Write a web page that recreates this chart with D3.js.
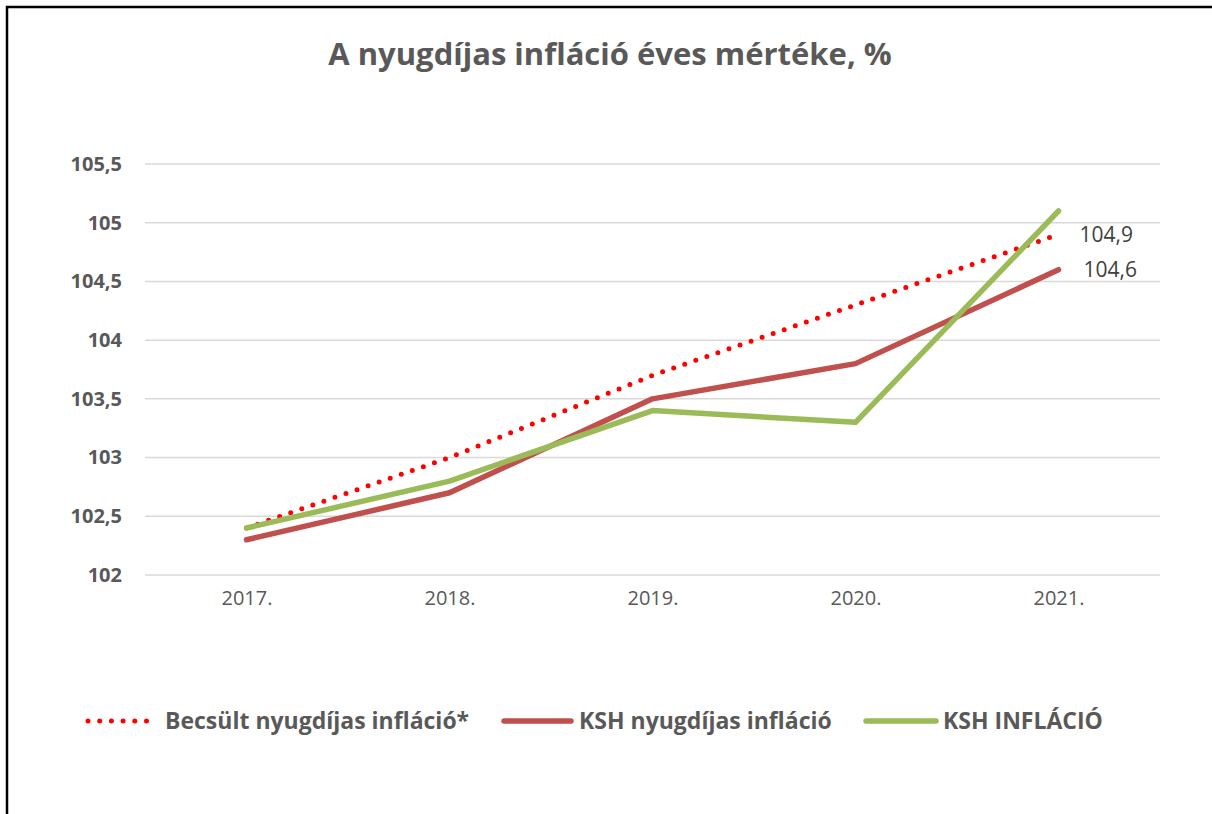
<!DOCTYPE html>
<html>
<head>
<meta charset="utf-8">
<script src="https://cdn.jsdelivr.net/npm/d3@7"></script>
<style>
  html, body { margin: 0; padding: 0; background: #fff; }
  svg { display: block; font-family: "Open Sans", "Noto Sans", sans-serif; }
</style>
</head>
<body>
<svg id="chart" width="1212" height="814"></svg>
<script>
// Évek és sorozatok
const years = ["2017.", "2018.", "2019.", "2020.", "2021."];
const becsultNyugdijas = [102.4, 103.0, 103.7, 104.3, 104.9];
const kshNyugdijas = [102.3, 102.7, 103.5, 103.8, 104.6];
const kshInflacio = [102.4, 102.8, 103.4, 103.3, 105.1];
const yTicks = [102, 102.5, 103, 103.5, 104, 104.5, 105, 105.5];
const seriesNames = ["Becsült nyugdíjas infláció*", "KSH nyugdíjas infláció", "KSH INFLÁCIÓ"];

const fmt = v => String(v).replace(".", ",");

const svg = d3.select("#chart");

// Külső keret
svg.append("rect")
  .attr("x", 7).attr("y", 7)
  .attr("width", 1240).attr("height", 900)
  .attr("fill", "none").attr("stroke", "#000").attr("stroke-width", 2.5);

// Cím
svg.append("text")
  .attr("x", 610).attr("y", 65)
  .attr("text-anchor", "middle")
  .attr("font-size", 31).attr("font-weight", 700)
  .attr("fill", "#595959")
  .text("A nyugdíjas infláció éves mértéke, %");

const x = d3.scalePoint().domain(years).range([145, 1160]).padding(0.5);
const y = d3.scaleLinear().domain([102, 105.5]).range([575, 164]);

// Rácsvonalak
svg.append("g").selectAll("line").data(yTicks).join("line")
  .attr("x1", 145).attr("x2", 1160)
  .attr("y1", d => y(d)).attr("y2", d => y(d))
  .attr("stroke", "#d9d9d9").attr("stroke-width", 1.5);

// Y tengely feliratai
const yAxis = d3.axisLeft(y).tickValues(yTicks).tickFormat(fmt).tickSize(0).tickPadding(0);
const gy = svg.append("g").attr("transform", "translate(122,0)").call(yAxis);
gy.select(".domain").remove();
gy.selectAll("text")
  .attr("font-family", "'Open Sans', sans-serif")
  .attr("font-size", 20).attr("font-weight", 700)
  .attr("fill", "#595959");

// X tengely feliratai
const xAxis = d3.axisBottom(x).tickSize(0).tickPadding(0);
const gx = svg.append("g").attr("transform", "translate(0,591)").call(xAxis);
gx.select(".domain").remove();
gx.selectAll("text")
  .attr("font-family", "'Open Sans', sans-serif")
  .attr("font-size", 20)
  .attr("fill", "#595959");

const line = d3.line().x((d, i) => x(years[i])).y(d => y(d));

const styles = [
  { data: becsultNyugdijas, color: "#ff0000", width: 5, dash: "0 11.7" },
  { data: kshNyugdijas, color: "#c0504d", width: 5.5, dash: null },
  { data: kshInflacio, color: "#9bbb59", width: 5.5, dash: null }
];

// Vonalak (a zöldet rajzoljuk legfelülre)
[1, 0, 2].forEach(k => {
  const s = styles[k];
  svg.append("path")
    .datum(s.data)
    .attr("d", line)
    .attr("fill", "none")
    .attr("stroke", s.color)
    .attr("stroke-width", s.width)
    .attr("stroke-linecap", "round")
    .attr("stroke-linejoin", "round")
    .attr("stroke-dasharray", s.dash);
});

// Adatcímkék az utolsó pontoknál
const last = years.length - 1;
[[becsultNyugdijas, 21], [kshNyugdijas, 25]].forEach(([arr, off]) => {
  svg.append("text")
    .attr("x", x(years[last]) + off)
    .attr("y", y(arr[last]))
    .attr("dy", "0.36em")
    .attr("font-size", 21)
    .attr("fill", "#404040")
    .text(fmt(arr[last]));
});

// Jelmagyarázat
const legendItems = [
  { x1: 88, x2: 151, tx: 165 },
  { x1: 504, x2: 571, tx: 579 },
  { x1: 866, x2: 936, tx: 943 }
];
const ly = 721;
legendItems.forEach((it, k) => {
  const s = styles[k];
  svg.append("line")
    .attr("x1", it.x1).attr("x2", it.x2)
    .attr("y1", ly).attr("y2", ly)
    .attr("stroke", s.color)
    .attr("stroke-width", s.width)
    .attr("stroke-linecap", "round")
    .attr("stroke-dasharray", s.dash);
  svg.append("text")
    .attr("x", it.tx).attr("y", ly)
    .attr("dy", "0.36em")
    .attr("font-size", 23).attr("font-weight", 700)
    .attr("fill", "#595959")
    .text(seriesNames[k]);
});
</script>
</body>
</html>
